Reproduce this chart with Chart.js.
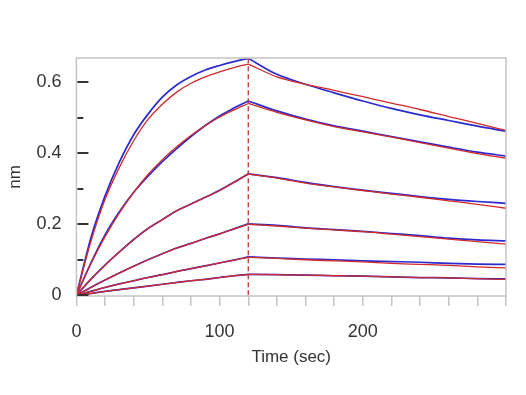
<!DOCTYPE html>
<html>
<head>
<meta charset="utf-8">
<script src="https://cdn.jsdelivr.net/npm/chart.js@4/dist/chart.umd.min.js"></script>
<style>
html,body{margin:0;padding:0;background:#fff;}
#wrap{width:526px;height:395px;position:relative;}
</style>
</head>
<body>
<div id="wrap"><canvas id="c" width="526" height="395"></canvas></div>
<script>
// Time points (sec)
const times = [0,10,20,30,40,50,60,70,80,90,100,110,120,140,160,180,200,220,240,260,280,300];
const dissociationStart = 120;
const yMajorTicks = [0, 0.2, 0.4, 0.6];
const xLabelTicks = [0, 100, 200];

// Measured responses (blue), nm
const measured1 = [0,0.16,0.28,0.375,0.452,0.51,0.558,0.592,0.616,0.634,0.647,0.658,0.667,0.622,0.594,0.57,0.547,0.526,0.508,0.492,0.476,0.462];
const measured2 = [0,0.09,0.17,0.235,0.29,0.335,0.376,0.413,0.447,0.478,0.505,0.527,0.547,0.519,0.496,0.477,0.462,0.447,0.432,0.417,0.403,0.392];
const measured3 = [0,0.045,0.085,0.122,0.157,0.188,0.213,0.238,0.257,0.276,0.296,0.318,0.342,0.331,0.318,0.306,0.296,0.287,0.278,0.27,0.264,0.259];
const measured4 = [0,0.022,0.043,0.063,0.082,0.1,0.117,0.133,0.146,0.16,0.173,0.187,0.201,0.197,0.19,0.185,0.18,0.174,0.168,0.161,0.156,0.153];
const measured5 = [0,0.011,0.022,0.032,0.041,0.05,0.058,0.067,0.075,0.083,0.091,0.099,0.108,0.105,0.102,0.1,0.097,0.095,0.093,0.09,0.088,0.087];
const measured6 = [0,0.005,0.011,0.016,0.021,0.026,0.031,0.036,0.041,0.045,0.05,0.055,0.059,0.058,0.057,0.055,0.054,0.052,0.05,0.049,0.047,0.046];

// Fitted curves (red), nm
const fit1 = [0,0.15,0.27,0.36,0.435,0.495,0.538,0.572,0.597,0.615,0.629,0.641,0.651,0.615,0.594,0.577,0.559,0.541,0.523,0.503,0.484,0.464];
const fit2 = [0,0.088,0.165,0.232,0.29,0.34,0.382,0.418,0.45,0.478,0.502,0.522,0.54,0.515,0.494,0.475,0.46,0.445,0.43,0.414,0.399,0.386];
const fit3 = [0,0.045,0.085,0.122,0.157,0.188,0.213,0.238,0.257,0.276,0.295,0.318,0.341,0.33,0.316,0.305,0.295,0.285,0.276,0.266,0.256,0.245];
const fit4 = [0,0.022,0.043,0.063,0.082,0.1,0.117,0.133,0.146,0.16,0.173,0.187,0.2,0.195,0.189,0.184,0.179,0.172,0.165,0.158,0.151,0.144];
const fit5 = [0,0.011,0.022,0.032,0.041,0.05,0.058,0.067,0.075,0.083,0.091,0.099,0.107,0.104,0.1,0.097,0.094,0.09,0.087,0.084,0.08,0.077];
const fit6 = [0,0.005,0.011,0.016,0.021,0.026,0.031,0.036,0.041,0.045,0.05,0.055,0.059,0.058,0.057,0.055,0.054,0.052,0.05,0.049,0.047,0.045];

const measuredSeries = [measured1, measured2, measured3, measured4, measured5, measured6];
const fitSeries = [fit1, fit2, fit3, fit4, fit5, fit6];

const BLUE = '#2a2ad0';
const RED = '#d22a2a';
const FONT = "'Liberation Sans', Arial, sans-serif";

// split each series into association and dissociation phases (sharp corner at dissociationStart)
function phasePoints(arr, assoc){
  const pts = arr.map((v,i)=>({x:times[i], y:v}));
  return pts.filter(p => assoc ? p.x <= dissociationStart : p.x >= dissociationStart);
}

const datasets = [];
[true,false].forEach(assoc => {
  measuredSeries.forEach(s => datasets.push({
    data: phasePoints(s, assoc), borderColor: BLUE, borderWidth: 1.7, pointRadius: 0,
    cubicInterpolationMode: 'monotone', fill: false, order: 2
  }));
  fitSeries.forEach(s => datasets.push({
    data: phasePoints(s, assoc), borderColor: RED, borderWidth: 1.3, pointRadius: 0,
    cubicInterpolationMode: 'monotone', fill: false, order: 1
  }));
});
datasets.push({
  data: [{x:dissociationStart, y:0}, {x:dissociationStart, y:Math.max(...measured1)}],
  borderColor: '#c03434', borderWidth: 1.3, borderDash: [5,3], pointRadius: 0, fill: false, order: 0
});

const frame = {
  id: 'frame',
  afterDatasetsDraw(chart){
    const {ctx, chartArea:a, scales} = chart;
    ctx.save();
    ctx.strokeStyle = '#c4c4c4';
    ctx.lineWidth = 1.5;
    ctx.strokeRect(a.left, a.top, a.right - a.left, a.bottom - a.top);
    // inward y ticks
    ctx.strokeStyle = '#333';
    ctx.lineWidth = 2;
    scales.y.ticks.forEach(t => {
      const py = Math.round(scales.y.getPixelForValue(t.value));
      const major = yMajorTicks.some(m => Math.abs(m - t.value) < 1e-6);
      const len = major ? 11 : 6;
      ctx.beginPath();
      ctx.moveTo(a.left + 1, py);
      ctx.lineTo(a.left + 1 + len, py);
      ctx.stroke();
    });
    ctx.restore();
  }
};

new Chart(document.getElementById('c'), {
  type: 'line',
  data: { datasets },
  options: {
    responsive: false,
    animation: false,
    layout: { padding: { top: 58, right: 20, left: 2, bottom: 27 } },
    plugins: { legend: { display: false }, tooltip: { enabled: false } },
    scales: {
      x: {
        type: 'linear', min: 0, max: 300,
        border: { display: false },
        grid: { drawOnChartArea: false, drawTicks: true, tickLength: 10, color: '#c4c4c4', lineWidth: 1.5 },
        ticks: {
          stepSize: 20, padding: 15, color: '#333', maxRotation: 0, autoSkip: false,
          font: { family: FONT, size: 18 },
          callback: v => xLabelTicks.includes(v) ? String(v) : ''
        },
        title: { display: true, text: 'Time (sec)', color: '#333', font: { family: FONT, size: 17 }, padding: { top: -10, bottom: 0 } }
      },
      y: {
        type: 'linear', min: -0.002, max: 0.668,
        border: { display: false },
        grid: { display: true, drawOnChartArea: false, drawTicks: false, color: 'rgba(0,0,0,0)' },
        ticks: {
          stepSize: 0.1, includeBounds: false, padding: 15, color: '#333',
          font: { family: FONT, size: 18 },
          callback: v => {
            const m = yMajorTicks.find(t => Math.abs(t - v) < 1e-6);
            return m === undefined ? '' : String(m);
          }
        },
        title: { display: true, text: 'nm', color: '#333', font: { family: FONT, size: 17 }, padding: { top: 3, bottom: -4 } }
      }
    }
  },
  plugins: [frame]
});
</script>
</body>
</html>
